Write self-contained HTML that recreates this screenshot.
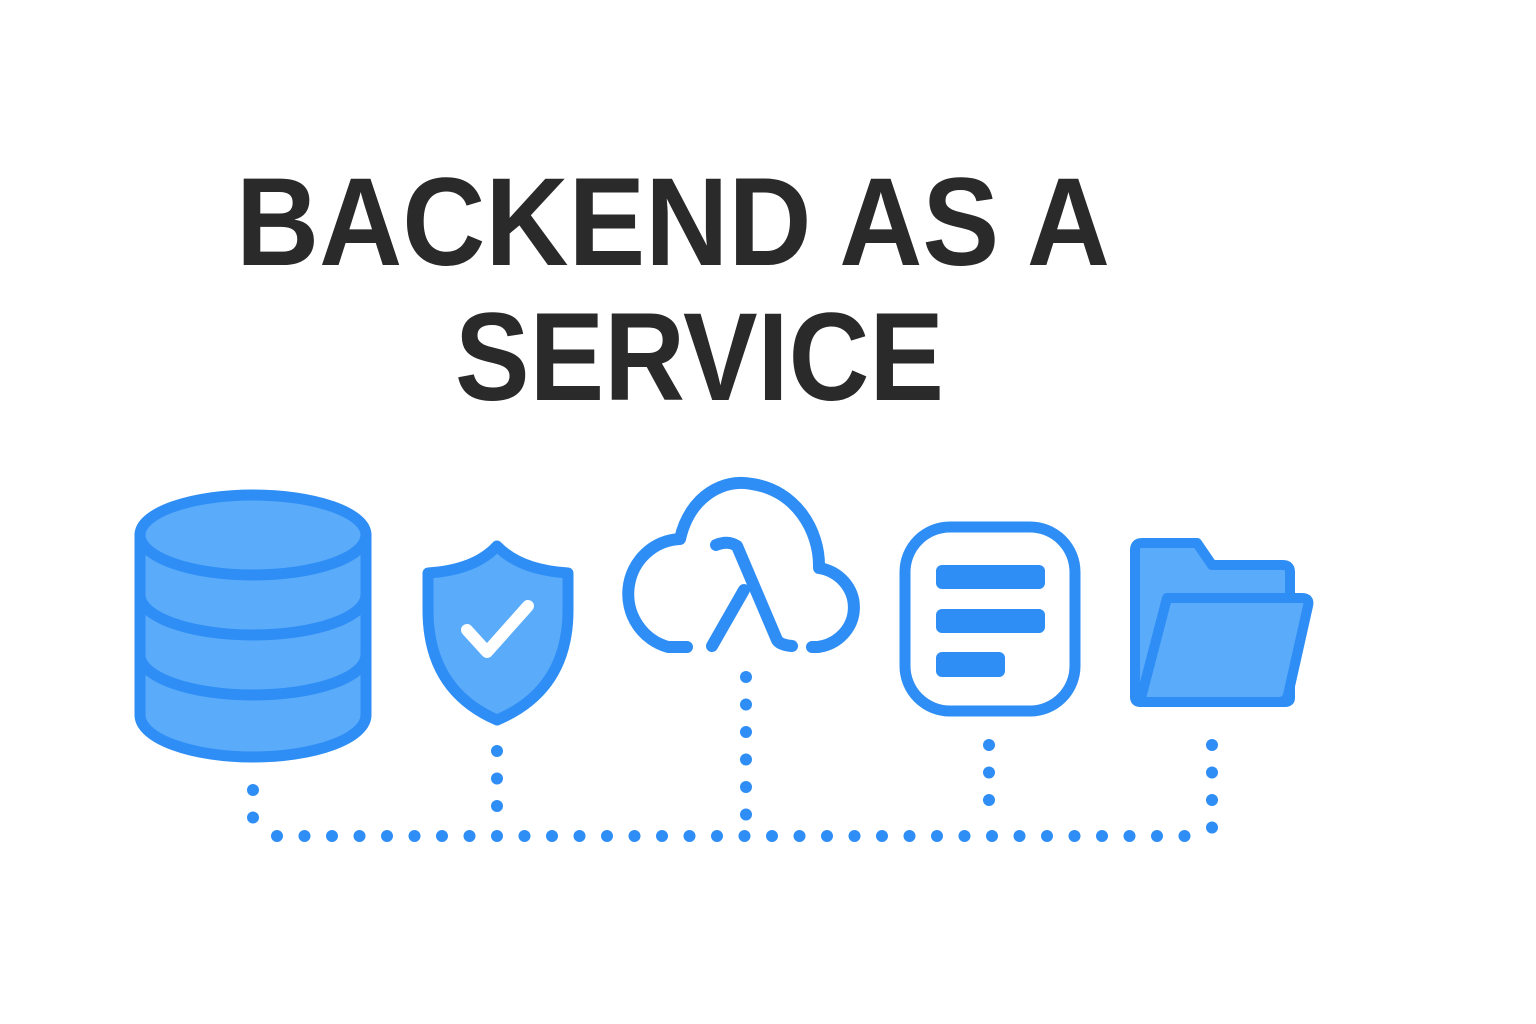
<!DOCTYPE html>
<html><head><style>html,body{margin:0;padding:0;background:#fff;}svg{display:block}</style></head>
<body>
<svg width="1536" height="1024" viewBox="0 0 1536 1024" xmlns="http://www.w3.org/2000/svg">
<rect width="1536" height="1024" fill="#fff"/>
<g font-family="Liberation Sans, Arial, sans-serif" font-weight="bold" fill="#2a2a2a" font-size="125">
<text x="236" y="265" textLength="874" lengthAdjust="spacingAndGlyphs">BACKEND AS A</text>
<text x="455" y="400" textLength="489" lengthAdjust="spacingAndGlyphs">SERVICE</text>
</g>
<g stroke="#2f8ef5" stroke-width="11" stroke-linejoin="round" stroke-linecap="round">
<path d="M140 535 V715 A113 42 0 0 0 366 715 V535 Z" fill="#5aabfa"/>
<ellipse cx="253" cy="535" rx="113" ry="40" fill="#5aabfa"/>
<path d="M140 595 A113 40 0 0 0 366 595" fill="none"/>
<path d="M140 655 A113 40 0 0 0 366 655" fill="none"/>
<path d="M428 573 Q475 570 497 546 Q520 570 568 573 V610 Q568 690 497 720 Q428 690 428 610 Z" fill="#5aabfa"/>
<path d="M467 630 L487 652 L528 606" fill="none" stroke="#fff" stroke-width="12"/>
<g stroke-width="12">
<path d="M687 647 H668 A54 55 0 0 1 680 539 C690 495 725 478 752 484 C795 490 820 530 819 568 A42 40 0 0 1 818 647 H812" fill="none"/>
<path d="M716 545 Q728 540 737 546 L777 640 Q780 645 792 646" fill="none"/>
<path d="M744 590 L712 646" fill="none"/>
</g>
<rect x="905" y="527" width="170" height="184" rx="45" fill="#fff"/>
</g>
<g fill="#2f8ef5">
<rect x="936" y="565" width="109" height="24" rx="6"/>
<rect x="936" y="609" width="109" height="24" rx="6"/>
<rect x="936" y="652" width="69" height="25" rx="6"/>
</g>
<g stroke="#2f8ef5" stroke-width="10" stroke-linejoin="round" fill="#5aabfa">
<path d="M1135 550 Q1135 543 1142 543 H1197 L1212 565 H1283 Q1290 565 1290 572 V698 Q1290 702 1285 702 H1140 Q1135 702 1135 697 Z"/>
<path d="M1167 598 H1302 Q1310 598 1308 606 L1288 695 Q1286 702 1279 702 H1140 Z"/>
</g>
<g stroke="#2f8ef5" stroke-width="12" stroke-linecap="round" fill="none" stroke-dasharray="0 27.5">
<path d="M277 836 H1205"/>
<path d="M253 790 V818"/>
<path d="M497 751 V810"/>
<path d="M746 677 V820"/>
<path d="M989 745 V805"/>
<path d="M1212 745 V830"/>
</g>
</svg>
</body></html>
